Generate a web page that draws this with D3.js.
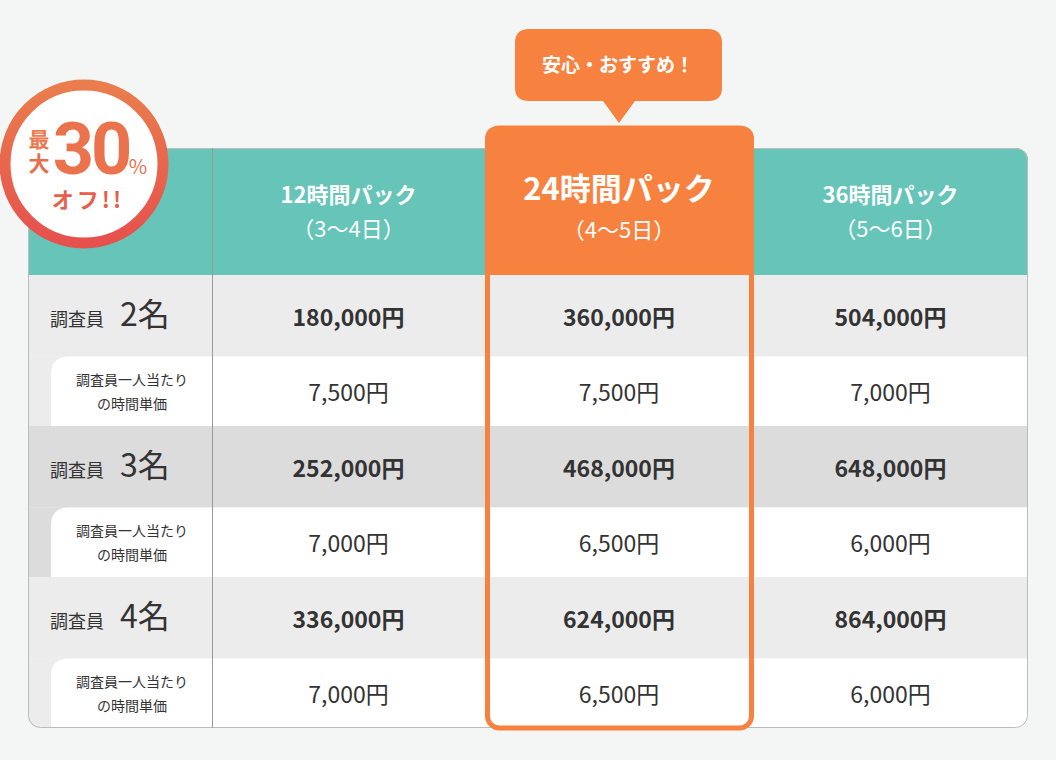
<!DOCTYPE html><html><head><meta charset="utf-8"><script src="https://cdn.jsdelivr.net/npm/d3@7"></script>
<style>body{margin:0;background:#f3f6f5;font-family:"Noto Sans CJK JP","Noto Sans",sans-serif}</style></head><body><svg id="c" width="1056" height="760"></svg>
<script>
const packs=["12時間パック","24時間パック","36時間パック"];
const packDays=["（3～4日）","（4～5日）","（5～6日）"];
const staff=["2名","3名","4名"];
const totals=[["180,000円","360,000円","504,000円"],["252,000円","468,000円","648,000円"],["336,000円","624,000円","864,000円"]];
const unit=[["7,500円","7,500円","7,000円"],["7,000円","6,500円","6,000円"],["7,000円","6,500円","6,000円"]];
const svg=d3.select("#c");
const colEdges=[212,485,753,1028];
const x=i=>(colEdges[i]+colEdges[i+1])/2;
const rows=d3.scaleBand().domain([0,1,2]).range([275,728]);
const T=148,L=28,R=1028,B=728,H=275;
const defs=svg.append("defs");
defs.append("clipPath").attr("id","tb").append("rect").attr("x",L).attr("y",T).attr("width",R-L).attr("height",B-T).attr("rx",12);
const g=svg.append("g").attr("clip-path","url(#tb)");
g.append("rect").attr("x",L).attr("y",T).attr("width",R-L).attr("height",H-T).attr("fill","#66c5b8");
staff.forEach((s,i)=>{
  const y0=rows(i),bw=rows.bandwidth(),mh=bw*0.54;
  g.append("rect").attr("x",L).attr("y",y0).attr("width",R-L).attr("height",mh).attr("fill",i==1?"#dcdcdc":"#ececec");
  g.append("rect").attr("x",212).attr("y",y0+mh).attr("width",R-212).attr("height",bw-mh).attr("fill","#fff");
  g.append("rect").attr("x",L).attr("y",y0+mh).attr("width",184).attr("height",bw-mh).attr("fill",i==1?"#dcdcdc":"#ececec");
  g.append("path").attr("d",`M51,${y0+mh+bw-mh}V${y0+mh+18}Q51,${y0+mh} 69,${y0+mh}H213V${y0+bw}Z`).attr("fill","#fff");
  const t=svg.append("text").attr("x",50).attr("y",y0+mh/2+10).attr("fill","#333");
  t.append("tspan").attr("font-size",18).text("調査員");
  t.append("tspan").attr("font-size",32).attr("x",120).text(s);
  svg.append("text").attr("x",132).attr("y",y0+mh+28).attr("text-anchor","middle").attr("font-size",14).attr("fill","#333").text("調査員一人当たり");
  svg.append("text").attr("x",132).attr("y",y0+mh+52).attr("text-anchor","middle").attr("font-size",14).attr("fill","#333").text("の時間単価");
  totals[i].forEach((v,j)=>svg.append("text").attr("x",x(j)).attr("y",y0+mh/2+10).attr("text-anchor","middle").attr("font-size",23).attr("font-weight","bold").attr("fill","#333").text(v));
  unit[i].forEach((v,j)=>svg.append("text").attr("x",x(j)).attr("y",y0+mh+(bw-mh)/2+10).attr("text-anchor","middle").attr("font-size",23).attr("fill","#333").text(v));
});
svg.append("rect").attr("x",L+.5).attr("y",T+.5).attr("width",R-L-1).attr("height",B-T-1).attr("rx",12).attr("fill","none").attr("stroke","#bbb");
svg.append("line").attr("x1",212.5).attr("x2",212.5).attr("y1",T).attr("y2",B).attr("stroke","#999");
svg.append("path").attr("d",`M485,275V140Q485,126 499,126H740Q754,126 754,140V275Z`).attr("fill","#f7823f");
svg.append("rect").attr("x",487.5).attr("y",128).attr("width",264).attr("height",600).attr("rx",12).attr("fill","none").attr("stroke","#f7823f").attr("stroke-width",5);
packs.forEach((p,j)=>{
  const big=j==1;
  svg.append("text").attr("x",x(j)).attr("y",big?200:203).attr("text-anchor","middle").attr("font-size",big?31:22).attr("font-weight","bold").attr("fill","#fff").text(p);
  svg.append("text").attr("x",x(j)).attr("y",big?238:237).attr("text-anchor","middle").attr("font-size",22).attr("fill","#fff").text(packDays[j]);
});
svg.append("path").attr("d","M529,29H708Q722,29 722,43V88Q722,101 708,101H635L619,123L603,101H529Q515,101 515,88V43Q515,29 529,29Z").attr("fill","#f7823f");
svg.append("text").attr("x",618).attr("y",72).attr("text-anchor","middle").attr("font-size",19).attr("font-weight","bold").attr("fill","#fff").text("安心・おすすめ！");
const gr=defs.append("linearGradient").attr("id","bg").attr("x1",0).attr("y1",0).attr("x2",0).attr("y2",1);
gr.append("stop").attr("offset",0).attr("stop-color","#ea7d4d");
gr.append("stop").attr("offset",1).attr("stop-color","#e6504d");
svg.append("circle").attr("cx",84).attr("cy",164).attr("r",79).attr("fill","#fff").attr("stroke","url(#bg)").attr("stroke-width",11);
svg.append("text").attr("x",39).attr("y",147).attr("text-anchor","middle").attr("font-size",21).attr("font-weight","bold").attr("fill","#eb7a50").text("最");
svg.append("text").attr("x",39).attr("y",171).attr("text-anchor","middle").attr("font-size",21).attr("font-weight","bold").attr("fill","#e96d4f").text("大");
svg.append("text").attr("x",91).attr("y",174).attr("text-anchor","middle").attr("font-family","Roboto").attr("font-size",72).attr("font-weight","bold").attr("letter-spacing",-3).attr("fill","#ea734e").text("30");
svg.append("text").attr("x",138).attr("y",174).attr("text-anchor","middle").attr("font-size",20).attr("fill","#ea734e").text("%");
svg.append("text").attr("x",88).attr("y",208).attr("text-anchor","middle").attr("font-size",22).attr("font-weight","bold").attr("letter-spacing",3).attr("fill","#e85f4e").text("オフ!!");
</script></body></html>
